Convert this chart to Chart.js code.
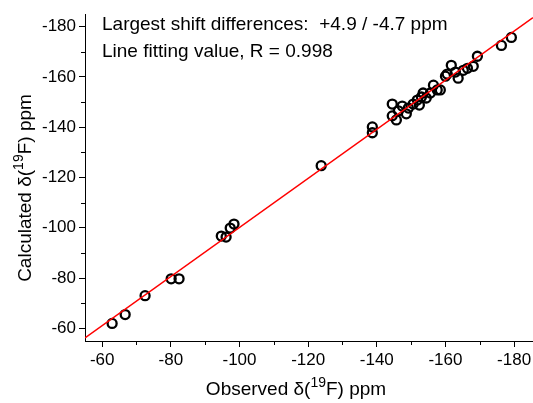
<!DOCTYPE html>
<html>
<head>
<meta charset="utf-8">
<script src="https://cdn.jsdelivr.net/npm/chart.js@4/dist/chart.umd.min.js"></script>
<style>
  html, body { margin: 0; padding: 0; background: #fff; }
  #wrap { width: 533px; height: 403px; }
</style>
</head>
<body>
<div id="wrap"><canvas id="shift-chart" width="533" height="403"></canvas></div>
<script>
// observed vs calculated 19F shifts (ppm)
const observed = [
  -62.9, -66.7, -72.5, -80.1, -82.4, -94.7, -96.1, -97.3, -98.4,
  -123.8, -138.7, -138.7, -144.5, -144.5, -145.7, -146.3, -147.4, -148.6,
  -149.2, -150.6, -151.8, -152.4, -153.0, -153.5, -154.4, -155.6, -156.5,
  -157.6, -158.5, -160.0, -160.5, -161.7, -162.9, -163.7, -165.2, -166.4,
  -168.1, -169.3, -176.3, -179.2,
];
const calculated = [
  -62.0, -65.5, -73.0, -79.7, -79.7, -96.7, -96.3, -99.9, -101.5,
  -124.7, -140.1, -137.8, -149.2, -144.5, -142.9, -146.5, -148.4, -145.3,
  -147.6, -149.2, -150.8, -148.8, -152.0, -153.6, -151.6, -153.6, -156.7,
  -154.8, -154.8, -160.3, -161.1, -164.6, -161.9, -159.5, -162.6, -163.4,
  -164.2, -168.2, -172.5, -175.7,
];

// linear fit, end points
const fitX = [-55, -185.5];
const fitY = [-56.2, -183.6];

const majorTicks = [-60, -80, -100, -120, -140, -160, -180];
const minorTicks = [-70, -90, -110, -130, -150, -170];

const noteLines = [
  "Largest shift differences:  +4.9 / -4.7 ppm",
  "Line fitting value, R = 0.998",
];

const FONT = "'Liberation Sans', Arial, sans-serif";

function drawRich(ctx, parts, size) {
  // parts: [text, isSup], centred on the origin
  let total = 0;
  const widths = parts.map(([t, sup]) => {
    ctx.font = `${sup ? Math.round(size * 0.75) : size}px ${FONT}`;
    const w = ctx.measureText(t).width;
    total += w;
    return w;
  });
  let x = -total / 2;
  parts.forEach(([t, sup], i) => {
    ctx.font = `${sup ? Math.round(size * 0.75) : size}px ${FONT}`;
    ctx.fillText(t, x, sup ? -size * 0.42 : 0);
    x += widths[i];
  });
}

const extras = {
  id: "extras",
  afterDraw(chart) {
    const { ctx, scales } = chart;
    const xs = scales.x;
    const ys = scales.y;
    ctx.save();
    ctx.strokeStyle = "#000";
    ctx.lineWidth = 1;
    ctx.beginPath();
    minorTicks.forEach((v) => {
      const px = Math.round(xs.getPixelForValue(v)) + 0.5;
      ctx.moveTo(px, xs.top);
      ctx.lineTo(px, xs.top + 4);
      const py = Math.round(ys.getPixelForValue(v)) + 0.5;
      ctx.moveTo(ys.right, py);
      ctx.lineTo(ys.right - 4, py);
    });
    ctx.stroke();

    ctx.fillStyle = "#000";
    ctx.textBaseline = "middle";
    ctx.textAlign = "left";
    ctx.font = `19px ${FONT}`;
    ctx.fillText(noteLines[0], 102, 25);
    ctx.fillText(noteLines[1], 102, 52);

    ctx.translate(296, 395);
    ctx.textBaseline = "alphabetic";
    drawRich(ctx, [["Observed δ(", false], ["19", true], ["F) ppm", false]], 19);
    ctx.restore();

    ctx.save();
    ctx.fillStyle = "#000";
    ctx.translate(31, 188);
    ctx.rotate(-Math.PI / 2);
    drawRich(ctx, [["Calculated δ(", false], ["19", true], ["F) ppm", false]], 19);
    ctx.restore();
  },
};

const points = observed.map((x, i) => ({ x, y: calculated[i] }));
const fitLine = fitX.map((x, i) => ({ x, y: fitY[i] }));

function axis(opts) {
  return Object.assign({
    type: "linear",
    reverse: true,
    border: { display: true, color: "#000", width: 1 },
    grid: { drawOnChartArea: false, drawTicks: true, tickLength: 6, color: "#000" },
    afterBuildTicks: (scale) => { scale.ticks = majorTicks.map((value) => ({ value })); },
  }, opts);
}

new Chart(document.getElementById("shift-chart"), {
  type: "scatter",
  data: {
    datasets: [
      {
        type: "line",
        data: fitLine,
        borderColor: "#ff0000",
        borderWidth: 1.5,
        pointRadius: 0,
        order: 0,
      },
      {
        data: points,
        pointStyle: "circle",
        pointRadius: 4.5,
        pointBorderWidth: 2.3,
        pointBorderColor: "#000",
        pointBackgroundColor: "rgba(0,0,0,0)",
        order: 1,
      },
    ],
  },
  options: {
    responsive: false,
    animation: false,
    events: [],
    layout: { autoPadding: false, padding: { top: 14, right: 0, left: 0, bottom: 0 } },
    plugins: { legend: { display: false }, tooltip: { enabled: false } },
    scales: {
      x: axis({
        min: -185.5, max: -55,
        ticks: { color: "#000", font: { size: 17, family: FONT }, padding: 3 },
        afterFit: (scale) => {
          scale.height = 62;
          scale.paddingLeft = 0;
          scale.paddingRight = 0;
        },
      }),
      y: axis({
        min: -185, max: -55,
        ticks: { color: "#000", font: { size: 17, family: FONT }, padding: 3 },
        afterFit: (scale) => {
          scale.width = 85;
          scale.paddingTop = 0;
          scale.paddingBottom = 0;
        },
      }),
    },
  },
  plugins: [extras],
});
</script>
</body>
</html>
